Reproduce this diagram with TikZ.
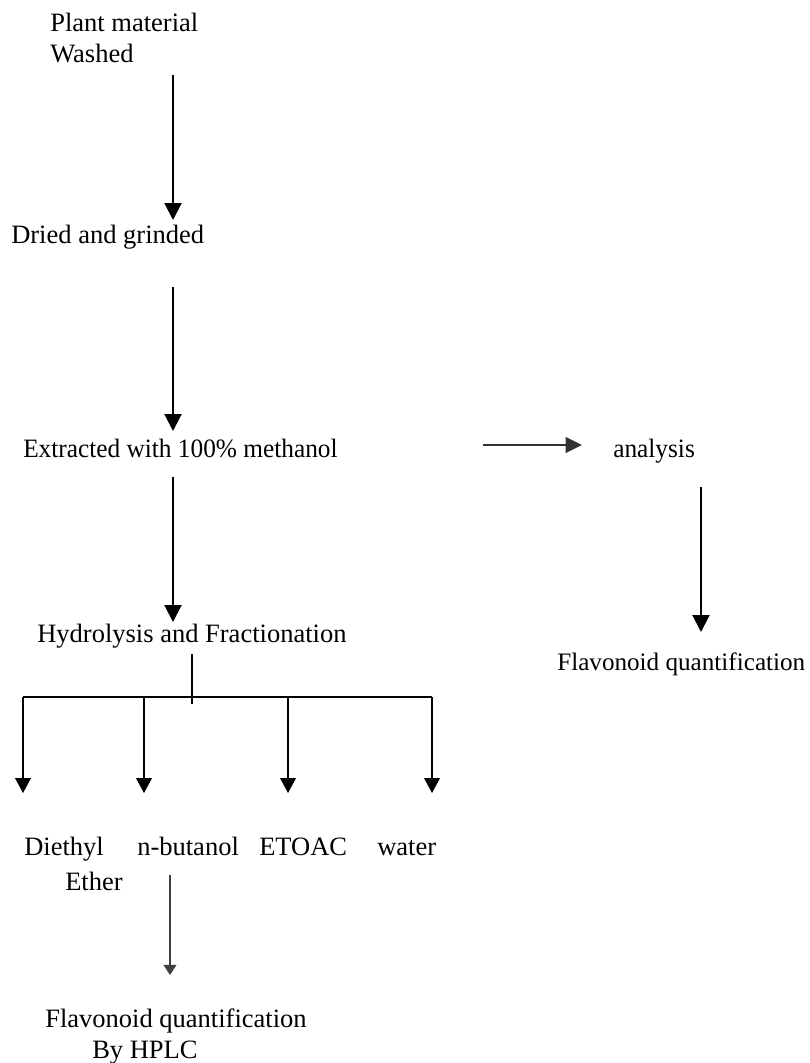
\documentclass[tikz,border=0pt]{standalone}
\usepackage{fontspec}
\setmainfont{Liberation Serif}
\usetikzlibrary{arrows.meta}
\newcommand{\lbsize}{\fontsize{19.5}{23}\selectfont}
\newcommand{\narrowtxt}[1]{\scalebox{0.955}[1]{#1}}

\begin{document}
\begin{tikzpicture}[x=0.7355pt,y=-0.7355pt,
    lbl/.style={anchor=base west,inner sep=0,font=\lbsize},
    mainarr/.style={line width=1.5pt,-{Triangle[width=12.5pt,length=12.5pt]}},
    brarr/.style={line width=1.2pt,-{Triangle[width=11.5pt,length=11pt]}},
    sidearr/.style={line width=1.2pt,black!80,-{Triangle[width=11.5pt,length=12pt]}},
    thinarr/.style={line width=0.9pt,black!75,-{Triangle[width=9.5pt,length=7.5pt]}}]
    \useasboundingbox (0,0) rectangle (809,1063);
    \node[lbl](plant) at (50,32) {Plant material};
    \node[lbl](washed) at (50,62) {Washed};
    \node[lbl](dried) at (11,243) {Dried and grinded};
    \node[lbl](extract) at (23,457) {\narrowtxt{Extracted with 100\% methanol}};
    \node[lbl](analysis) at (613,457) {\narrowtxt{analysis}};
    \node[lbl](hydro) at (37,642) {Hydrolysis and Fractionation};
    \node[lbl,font=\fontsize{18.5}{22}\selectfont](flavr) at (557,670) {Flavonoid quantification};
    \node[lbl](diethyl) at (24,855) {Diethyl};
    \node[lbl](ether) at (65,890) {Ether};
    \node[lbl](butanol) at (137,855) {n-butanol};
    \node[lbl](etoac) at (259,855) {ETOAC};
    \node[lbl](water) at (377,855) {water};
    \node[lbl](flavb) at (45,1027) {Flavonoid quantification};
    \node[lbl](hplc) at (92,1058) {By HPLC};
    % arrow ends
    \coordinate(w1) at (173,75);  \coordinate(d1) at (173,220);
    \coordinate(d2) at (173,287); \coordinate(x1) at (173,431);
    \coordinate(x2) at (173,477); \coordinate(h1) at (173,622);
    \coordinate(x3) at (483,445); \coordinate(an1) at (582,445);
    \coordinate(an2) at (701,487); \coordinate(fr1) at (701,632);
    \coordinate(h2) at (192,654); \coordinate(h3) at (192,704);
    \coordinate(bl) at (23,697);  \coordinate(br) at (432,697);
    \coordinate(b1) at (170,875); \coordinate(fb1) at (170,975);
    \draw[mainarr] (w1) -- (d1);
    \draw[mainarr] (d2) -- (x1);
    \draw[mainarr] (x2) -- (h1);
    \draw[mainarr] (an2) -- (fr1);
    \draw[sidearr] (x3) -- (an1);
    \draw[line width=1.2pt] (h2) -- (h3);
    \draw[line width=1.2pt] (bl) -- (br);
    \foreach \xx [count=\i] in {23,144,288,432} {
      \coordinate(t\i) at (\xx,697); \coordinate(f\i) at (\xx,793);
      \draw[brarr] (t\i) -- (f\i);
    }
    \draw[thinarr] (b1) -- (fb1);
\end{tikzpicture}
\end{document}
